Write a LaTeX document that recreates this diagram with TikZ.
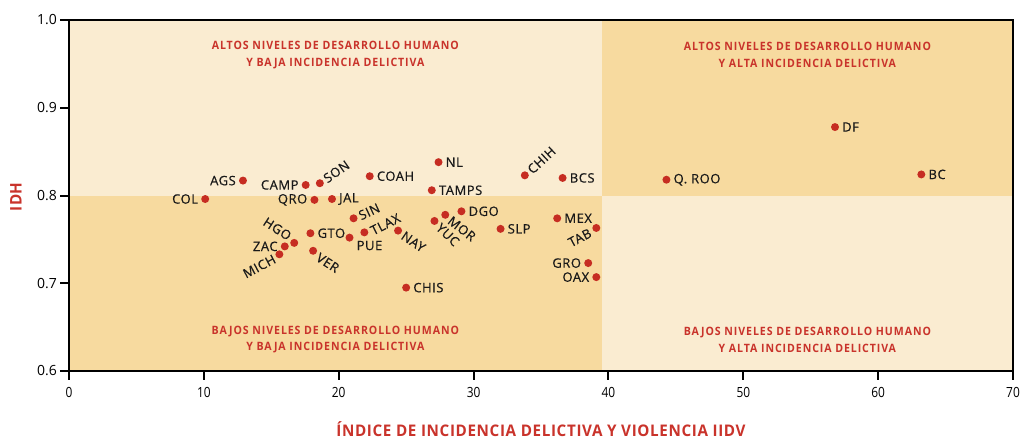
\documentclass[tikz,border=0pt]{standalone}
\usepackage{fontspec}
\setmainfont{Open Sans}
\newfontfamily\condfont{Open Sans}[FakeStretch=0.85]
\newfontfamily\quadfont{Open Sans}[FakeStretch=0.92, LetterSpace=8]
\newfontfamily\axfont{Open Sans}[FakeStretch=0.95, LetterSpace=4]
\newfontfamily\lblfont{Open Sans}[FakeBold=0.5, LetterSpace=4]
\usetikzlibrary{calc}
\definecolor{cream}{HTML}{FAECD1}
\definecolor{sand}{HTML}{F7DA9F}
\definecolor{dotred}{HTML}{C62D22}
\definecolor{titlered}{HTML}{C9332B}
\tikzset{
  dot/.style={circle, fill=dotred, inner sep=0pt, minimum size=8pt},
  lbl/.style={inner sep=0pt, text=black!90, font=\lblfont\fontsize{13}{13}\selectfont},
  quad/.style={align=center, text=titlered, font=\quadfont\bfseries\fontsize{11.5}{16.6}\selectfont},
  axtitle/.style={inner sep=0pt, text=titlered, font=\axfont\bfseries\fontsize{16}{16}\selectfont},
  ytick/.style={inner sep=0pt, anchor=east, font=\fontsize{14}{14}\selectfont},
  xtick/.style={inner sep=0pt, anchor=base, font=\condfont\fontsize{14}{14}\selectfont},
}
\begin{document}
\begin{tikzpicture}[x=13.486pt, y=877.5pt, shift={(69pt,-897.5pt)}]
\useasboundingbox (-5.1165,1.02279) rectangle (70.814,0.523647);
% quadrants
\fill[cream] (0,0.6) rectangle (70,1.0);
\fill[sand] (0,0.6) rectangle (39.5,0.8);
\fill[sand] (39.5,0.8) rectangle (70,1.0);
\draw[line width=2pt] (0,0.6) rectangle (70,1.0);
% y ticks
\foreach \v/\t in {1.0/1.0,0.9/0.9,0.8/0.8,0.7/0.7,0.6/0.6}{
  \draw[line width=2pt] (0,\v) -- ++(-9pt,0);
  \node[ytick] (yt\t) at ($(0,\v)+(-12pt,0)$) {\t};
}
% x ticks
\foreach \v in {0,10,...,70}{
  \draw[line width=2pt] (\v,0.6) -- ++(0,-9pt);
  \node[xtick] (xt\v) at ($(\v,0.6)+(0,-26pt)$) {\v};
}
% axis titles
\node[axtitle] (xtitle) at (35,0.5335) {ÍNDICE DE INCIDENCIA DELICTIVA Y VIOLENCIA IIDV};
\node[axtitle, rotate=90] (ytitle) at (-3.93,0.7983) {IDH};
% quadrant titles
\node[quad] (q1) at (19.75,0.9601) {ALTOS NIVELES DE DESARROLLO HUMANO\\Y BAJA INCIDENCIA DELICTIVA};
\node[quad] (q2) at (54.75,0.9601) {ALTOS NIVELES DE DESARROLLO HUMANO\\Y ALTA INCIDENCIA DELICTIVA};
\node[quad] (q3) at (19.75,0.6357) {BAJOS NIVELES DE DESARROLLO HUMANO\\Y BAJA INCIDENCIA DELICTIVA};
\node[quad] (q4) at (54.75,0.6357) {BAJOS NIVELES DE DESARROLLO HUMANO\\Y ALTA INCIDENCIA DELICTIVA};
% data points
\foreach \n/\x/\y in {ags/12.9/0.817, camp/17.55/0.812, son/18.6/0.814, coah/22.3/0.822,
  nl/27.4/0.838, tamps/26.9/0.806, col/10.1/0.796, qro/18.2/0.795, jal/19.5/0.796,
  sin/21.1/0.774, hgo/16.7/0.746, zac/16.0/0.742, mich/15.6/0.733, gto/17.9/0.757,
  ver/18.1/0.737, pue/20.8/0.752, tlax/21.9/0.758, nay/24.4/0.760, chis/25.0/0.695,
  chih/33.8/0.823, bcs/36.6/0.820, dgo/29.1/0.782, mor/27.9/0.778, yuc/27.1/0.771,
  slp/32.0/0.762, mex/36.2/0.774, tab/39.1/0.763, gro/38.5/0.723, oax/39.1/0.707,
  qroo/44.3/0.818, df/56.8/0.878, bc/63.2/0.824}{
  \node[dot] (\n) at (\x,\y) {};
}
% labels right of dot
\foreach \n/\t in {coah/COAH, nl/NL, tamps/TAMPS, jal/JAL, gto/GTO, chis/CHIS, bcs/BCS,
  dgo/DGO, slp/SLP, mex/MEX, qroo/Q.\ ROO, df/DF, bc/BC}{
  \node[lbl, anchor=west] (\n-l) at ($(\n)+(7pt,0)$) {\t};
}
% labels left of dot
\foreach \n/\t in {ags/AGS, camp/CAMP, col/COL, qro/QRO, zac/ZAC, gro/GRO, oax/OAX}{
  \node[lbl, anchor=east] (\n-l) at ($(\n)+(-7pt,0)$) {\t};
}
\node[lbl, anchor=north west] (pue-l) at ($(pue)+(7pt,-3pt)$) {PUE};
% rotated labels
\node[lbl, anchor=west, rotate=35] (son-l) at ($(son)+(35:6pt)$) {SON};
\node[lbl, anchor=west, rotate=43] (chih-l) at ($(chih)+(40:6pt)$) {CHIH};
\node[lbl, anchor=west, rotate=25] (sin-l) at ($(sin)+(20:6pt)$) {SIN};
\node[lbl, anchor=west, rotate=27] (tlax-l) at ($(tlax)+(8:7pt)$) {TLAX};
\node[lbl, anchor=west, rotate=-34] (nay-l) at ($(nay)+(-40:6pt)$) {NAY};
\node[lbl, anchor=west, rotate=-33] (ver-l) at ($(ver)+(-50:7pt)$) {VER};
\node[lbl, anchor=west, rotate=-38] (mor-l) at ($(mor)+(-45:6pt)$) {MOR};
\node[lbl, anchor=west, rotate=-44] (yuc-l) at ($(yuc)+(-50:6pt)$) {YUC};
\node[lbl, anchor=east, rotate=-33] (hgo-l) at ($(hgo)+(125:7pt)$) {HGO};
\node[lbl, anchor=east, rotate=28] (mich-l) at ($(mich)+(220:6pt)$) {MICH};
\node[lbl, anchor=east, rotate=28] (tab-l) at ($(tab)+(215:7pt)$) {TAB};
\end{tikzpicture}
\end{document}
